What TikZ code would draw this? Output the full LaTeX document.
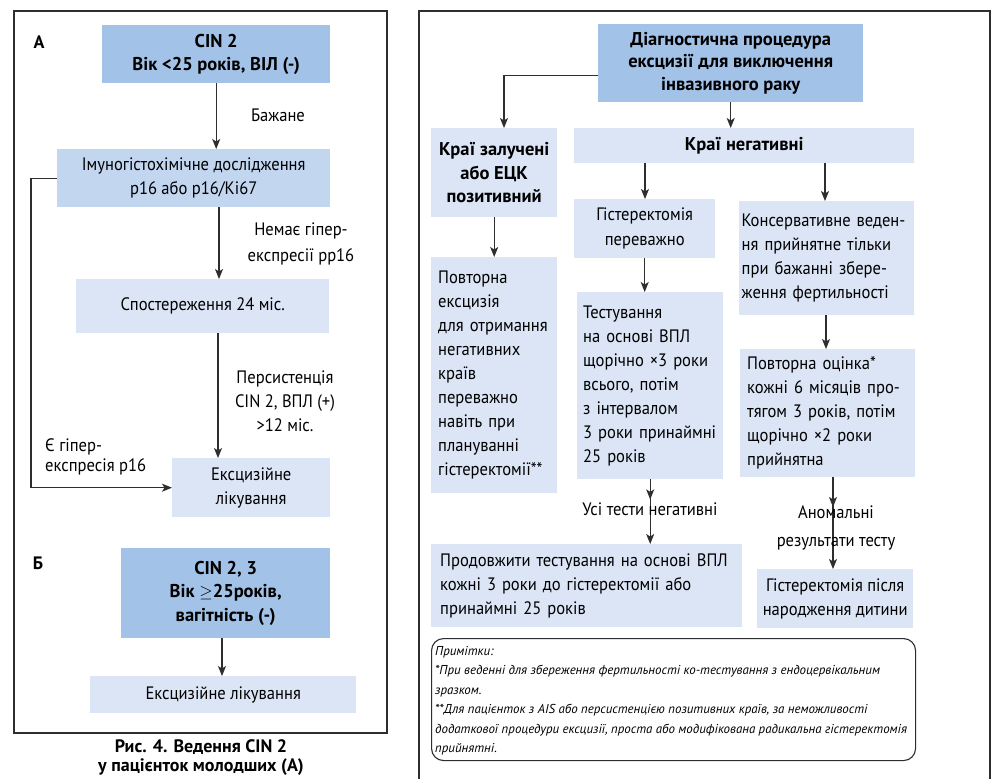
\documentclass[tikz,border=0pt]{standalone}
\usepackage{fontspec}
\setmainfont{PT Sans}
\newfontfamily\bodyfont[FakeStretch=0.92]{PT Sans}
\usetikzlibrary{arrows.meta}

\definecolor{midblue}{HTML}{A3C2E8}
\definecolor{paleblue}{HTML}{C2D6F0}
\definecolor{lightblue}{HTML}{DBE5F5}
\definecolor{inkgray}{HTML}{2E2E2E}

\tikzset{
  base/.style={rectangle, draw=none, inner sep=0pt, anchor=north west,
    font=\bodyfont\fontsize{18}{24}\selectfont, text=black},
  headbox/.style={base, fill=midblue, align=center,
    font=\normalfont\fontsize{18.5}{23.5}\selectfont\bfseries},
  midbox/.style={base, fill=paleblue, align=center},
  softbox/.style={base, fill=lightblue, align=center},
  leftbox/.style={base, fill=lightblue, align=left, anchor=north west},
  softbold/.style={softbox, font=\normalfont\fontsize{18.5}{23.5}\selectfont\bfseries},
  lbl/.style={inner sep=0pt, align=center, font=\bodyfont\fontsize{18}{25}\selectfont},
  arr/.style={draw=inkgray, line width=1.1pt,
    -{Stealth[length=10pt, width=8pt, inset=2.5pt]}},
  frame/.style={draw=inkgray, line width=1.4pt},
}

\begin{document}
\begin{tikzpicture}[x=1pt, y=-1pt]
\useasboundingbox (0,0) rectangle (997,779);
\clip (0,0) rectangle (997,779);
\fill[white] (0,0) rectangle (997,779);

% ---------------- left panel ----------------
\draw[frame] (14,11) rectangle (387,733);

\node[lbl, font=\normalfont\fontsize{18}{22}\selectfont\bfseries] (labA) at (39,42) {А};

\node[headbox, minimum width=228pt, minimum height=58pt] (cin2) at (102,25)
  {CIN 2\\Вік <25 років, ВІЛ (-)};
\node[midbox, minimum width=273pt, minimum height=58pt] (immuno) at (57,149)
  {Імуногістохімічне дослідження\\p16 або p16/Ki67};
\node[softbox, minimum width=253pt, minimum height=54pt] (obs) at (76,279)
  {Спостереження 24 міс.};
\node[softbox, minimum width=158pt, minimum height=59pt] (exc) at (172,458)
  {Ексцизійне\\лікування};

\draw[arr] (cin2.south) -- (cin2.south |- immuno.north);
\node[lbl] (want) at (278,115) {Бажане};

\draw[arr] (219,0 |- immuno.south) -- (219,0 |- obs.north);
\node[lbl, font=\bodyfont\fontsize{18}{26}\selectfont] (noexp) at (301,244)
  {Немає гіпер-\\експресії pp16};

\draw[arr] (218,0 |- obs.south) -- (218,0 |- exc.north);
\node[lbl, font=\bodyfont\fontsize{18}{24}\selectfont] (persist) at (285,401)
  {Персистенція\\CIN 2, ВПЛ (+)\\>12 міс.};

\draw[arr] (immuno.west) -- ++(-26,0) |- (exc.west);
\node[lbl, align=left, anchor=west, font=\bodyfont\fontsize{18}{20}\selectfont] (yesexp) at (45,457)
  {Є гіпер-\\експресія p16};

\node[lbl, font=\normalfont\fontsize{18}{22}\selectfont\bfseries] (labB) at (38,563) {Б};
\node[headbox, minimum width=209pt, minimum height=90pt] (cin23) at (121,548)
  {CIN 2, 3\\Вік \ensuremath{\geq}25років,\\вагітність (-)};
\node[softbox, minimum width=266pt, minimum height=37pt] (exc2) at (90,676)
  {Ексцизійне лікування};
\draw[arr] (222,0 |- cin23.south) -- (222,0 |- exc2.north);

\node[lbl, font=\normalfont\fontsize{18}{19}\selectfont\bfseries, anchor=north] (caption) at (201,739)
  {Рис. 4. Ведення CIN 2\\у пацієнток молодших (А)};

% ---------------- right panel ----------------
\draw[frame] (419,795) -- (419,11) -- (990,11) -- (990,795);

\node[headbox, minimum width=265pt, minimum height=78pt,
  font=\normalfont\fontsize{18.5}{22.5}\selectfont\bfseries] (diag) at (598,24)
  {Діагностична процедура\\ексцизії для виключення\\інвазивного раку};
\node[softbold, minimum width=126pt, minimum height=89pt] (kz) at (431,128)
  {Краї залучені\\або ЕЦК\\позитивний};
\node[softbold, minimum width=340pt, minimum height=35pt] (kn) at (574,128)
  {Краї негативні};

\draw[arr] ([yshift=-12pt]diag.west) -| (504,0 |- kz.north);
\draw[arr] (diag.south) -- (diag.south |- kn.north);

\node[softbox, minimum width=141pt, minimum height=59pt,
  font=\bodyfont\fontsize{18}{25}\selectfont] (gist) at (574,199)
  {Гістеректомія\\переважно};
\node[leftbox, minimum height=114pt, text width=170pt, inner xsep=2.5pt] (kons) at (739,201)
  {Консервативне веден-\\ня прийнятне тільки\\при бажанні збере-\\ження фертильності};
\draw[arr] (645,0 |- kn.south) -- (645,0 |- gist.north);
\draw[arr] (825,0 |- kn.south) -- (825,0 |- kons.north);

\node[leftbox, minimum height=236pt, text width=112pt, inner xsep=7pt] (rep) at (431,257)
  {Повторна\\ексцизія\\для отримання\\негативних\\країв\\переважно\\навіть при\\плануванні\\гістеректомії**};
\draw[arr] (kz.south) -- (kz.south |- rep.north);

\node[leftbox, minimum height=187pt, text width=134pt, inner xsep=6pt] (test) at (577,292)
  {Тестування\\на основі ВПЛ\\щорічно ×3 роки\\всього, потім\\з інтервалом\\3 роки принаймні\\25 років};
\draw[arr] (gist.south) -- (gist.south |- test.north);

\node[leftbox, minimum height=128pt, text width=161pt, inner xsep=7pt] (reass) at (740,349)
  {Повторна оцінка*\\кожні 6 місяців про-\\тягом 3 років, потім\\щорічно ×2 роки\\прийнятна};
\draw[arr] (826,0 |- kons.south) -- (826,0 |- reass.north);

\node[leftbox, minimum height=83pt, text width=293pt, inner xsep=9pt] (cont) at (431,544)
  {Продовжити тестування на основі ВПЛ\\кожні 3 роки до гістеректомії або\\принаймні 25 років};
\node[softbox, minimum width=156pt, minimum height=59pt] (hyst) at (757,569)
  {Гістеректомія після\\народження дитини};

% test outcome: line runs through its label
\draw[arr] (test.south) -- ++(0,20);
\draw[arr] (test.south) -- (test.south |- cont.north);
\node[lbl] (allneg) at (650,509) {Усі тести негативні};

% reassessment outcome
\draw[arr] (833,0 |- reass.south) -- (833,507);
\draw[arr] (833,0 |- reass.south) -- (833,0 |- hyst.north);
\node[lbl, font=\bodyfont\fontsize{18}{28}\selectfont] (abn) at (836,528)
  {Аномальні\\результати тесту};

% notes
\node[base, draw=inkgray, line width=1.1pt, rounded corners=12pt, fill=white,
  minimum width=484pt, minimum height=122pt] (notes) at (431,638) {};
\node[inner sep=0pt, anchor=north west, align=left,
  font=\normalfont\fontsize{12.9}{19.5}\selectfont\itshape] (notetext) at (435,646)
  {Примітки:\\
   *При веденні для збереження фертильності ко-тестування з ендоцервікальним\\
   зразком.\\
   **Для пацієнток з AIS або персистенцією позитивних країв, за неможливості\\
   додаткової процедури ексцизії, проста або модифікована радикальна гістеректомія\\
   прийнятні.};
\end{tikzpicture}
\end{document}
